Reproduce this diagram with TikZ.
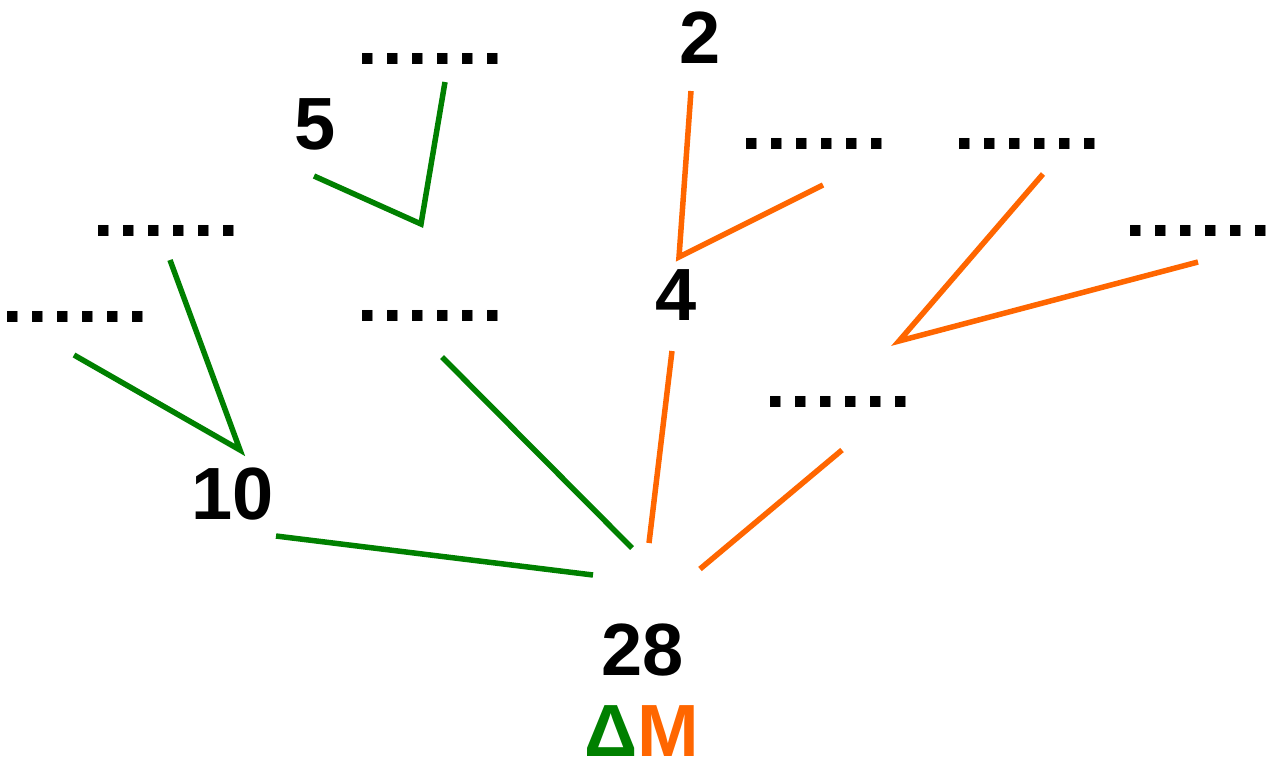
\documentclass[tikz,border=0pt]{standalone}
\usepackage{fontspec}
\setmainfont{Liberation Sans}
\definecolor{dgreen}{RGB}{0,128,0}
\definecolor{dorange}{RGB}{255,102,0}
\newcommand{\sixdots}{.\kern4.4pt.\kern4.4pt.\kern4.4pt.\kern4.4pt.\kern4.4pt.}
\begin{document}
\begin{tikzpicture}[x=1pt,y=-1pt,
  lbl/.style={inner sep=0pt, font=\fontsize{74}{80}\selectfont\bfseries},
  gline/.style={draw=dgreen, line width=5.5pt},
  oline/.style={draw=dorange, line width=5.5pt}]
\useasboundingbox (0,0) rectangle (1271,764);
% labels
\node[lbl] (n28) at (643,650) {28};
\node[lbl] (dm) at (642,731) {\textcolor{dgreen}{Δ}\textcolor{dorange}{M}};
\node[lbl] (n10) at (232.5,494.5) {10};
\node[lbl] (n5) at (315,124) {5};
\node[lbl] (n2) at (700,38) {2};
\node[lbl] (n4) at (676,295) {4};
% dotted placeholders
\node[lbl] (d5) at (430.5,59) {\sixdots};
\node[lbl] (dl1) at (166,231) {\sixdots};
\node[lbl] (dl2) at (75.5,317) {\sixdots};
\node[lbl] (dm1) at (430,316) {\sixdots};
\node[lbl] (d2r) at (814.5,144) {\sixdots};
\node[lbl] (dr1) at (1027,144) {\sixdots};
\node[lbl] (dr2) at (1198.5,231) {\sixdots};
\node[lbl] (db) at (838,402) {\sixdots};
% coordinates for line ends
\coordinate (g1a) at (276,536); \coordinate (g1b) at (593,575);
\coordinate (g2a) at (442,357); \coordinate (g2b) at (632,548);
\coordinate (g3a) at (74,355);  \coordinate (g3t) at (240,450); \coordinate (g3b) at (170,260);
\coordinate (g4a) at (314,176); \coordinate (g4t) at (421,224); \coordinate (g4b) at (445,82);
\coordinate (o1a) at (649,543); \coordinate (o1b) at (672,351);
\coordinate (o2a) at (700,569); \coordinate (o2b) at (842,450);
\coordinate (o3a) at (691,91);  \coordinate (o3t) at (679,257); \coordinate (o3b) at (823,185);
\coordinate (o4a) at (1043,174); \coordinate (o4t) at (899,341); \coordinate (o4b) at (1198,262);
% green lines
\draw[gline] (g1a) -- (g1b);
\draw[gline] (g2a) -- (g2b);
\draw[gline] (g3a) -- (g3t) -- (g3b);
\draw[gline] (g4a) -- (g4t) -- (g4b);
% orange lines
\draw[oline] (o1a) -- (o1b);
\draw[oline] (o2a) -- (o2b);
\draw[oline] (o3a) -- (o3t) -- (o3b);
\draw[oline] (o4a) -- (o4t) -- (o4b);
\end{tikzpicture}
\end{document}
